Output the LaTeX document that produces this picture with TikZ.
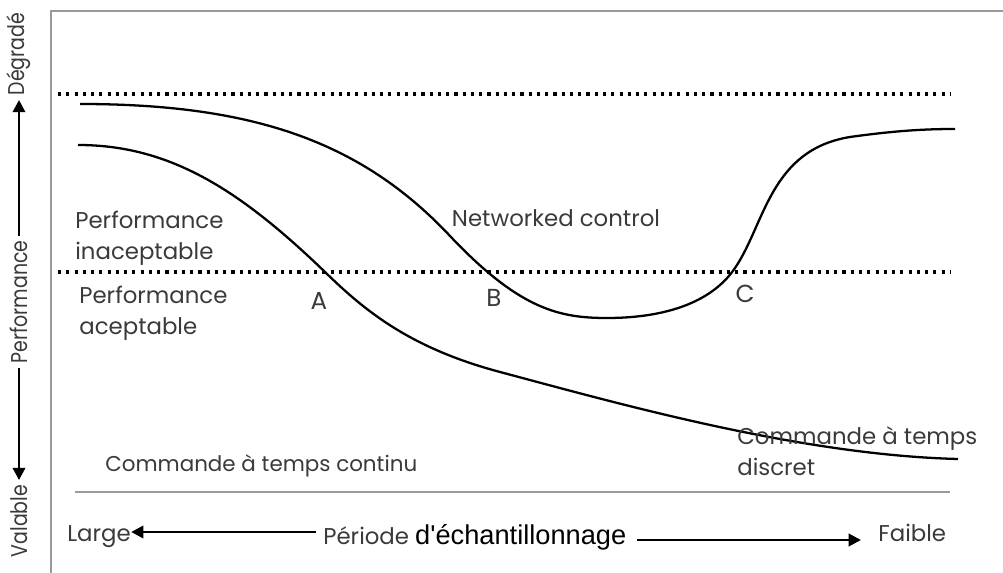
\documentclass[tikz,border=0pt]{standalone}
\usepackage{graphicx}
\usepackage{fontspec}
\setmainfont{Poppins}
\newfontfamily\arialf{Liberation Sans}
\usetikzlibrary{arrows.meta}
\definecolor{txtc}{HTML}{3A3A3A}
\definecolor{framec}{HTML}{9A9A9A}
\begin{document}
\begin{tikzpicture}[x=0.02cm,y=-0.02cm,
  lbl/.style={text=txtc,font=\fontsize{13}{17.5}\selectfont,inner sep=0pt,align=left},
  vlbl/.style={text=txtc,font=\fontsize{13}{16}\selectfont,inner sep=2.5pt,rotate=90},
  pt/.style={text=txtc,font=\fontsize{14}{16}\selectfont,inner sep=0pt},
  framel/.style={draw=framec,line width=0.8pt},
  dotl/.style={line width=1.8pt,dash pattern=on 1.8pt off 2.9pt},
  curve/.style={line width=1.3pt},
  bigarrow/.style={line width=1.6pt,-{Triangle[length=7pt,width=7pt]}}]
\useasboundingbox (0,0) rectangle (1003,573);
% frame
\draw[framel] (51,573) -- (51,11) -- (1003,11);
\draw[framel] (75,492) -- (950,492);
% dotted thresholds
\draw[dotl] (58,94) -- (950,94);
\draw[dotl] (58,272) -- (950,272);
% networked control curve
\draw[curve] (80,104) .. controls (250,104) and (360,140) .. (450,236)
  .. controls (520,310) and (560,318) .. (607,318)
  .. controls (660,318) and (710,305) .. (735,268)
  .. controls (765,224) and (770,150) .. (850,137)
  .. controls (900,130) and (930,129) .. (955,129);
% continuous / discrete curve
\draw[curve] (78,145) .. controls (170,145) and (240,190) .. (325,272)
  .. controls (365,311) and (410,348) .. (500,372)
  .. controls (620,404) and (800,455) .. (958,459);
% left axis
\node[vlbl] (deg) at (19,54) {\scalebox{0.83}[1]{Dégradé}};
\node[vlbl] (perf) at (19,302) {\scalebox{0.83}[1]{Performance}};
\node[vlbl] (val) at (19,521) {\scalebox{0.83}[1]{Valable}};
\draw[bigarrow] (perf.east) -- (deg.west);
\draw[bigarrow] (perf.west) -- (val.east);
% labels
\node[lbl,anchor=west] (inac) at (75,238) {Performance\\inaceptable};
\node[lbl,anchor=west] (acep) at (79,313) {Performance\\aceptable};
\node[lbl] (net) at (556,218) {Networked control};
\node[lbl,anchor=west,font=\fontsize{12.2}{15}\selectfont] (cont) at (105,466) {Commande à temps continu};
\node[lbl,anchor=west] (disc) at (737,451) {Commande à temps\\discret};
\node[pt] (A) at (319,301) {A};
\node[pt] (B) at (494,298) {B};
\node[pt] (C) at (745,294) {C};
% bottom axis
\node[lbl,anchor=west] (large) at (67,537) {Large};
\node[lbl,anchor=west] (per) at (323,537) {Période \textcolor{black}{\arialf\fontsize{15.5}{17}\selectfont d'échantillonnage}};
\node[lbl,anchor=west] (faible) at (878,533) {Faible};
\draw[bigarrow] ([xshift=-4pt]per.west |- 0,532) -- (large.east |- 0,532);
\draw[bigarrow] ([xshift=6pt]per.east |- 0,540) -- (861,540) coordinate (fa);
\end{tikzpicture}
\end{document}
